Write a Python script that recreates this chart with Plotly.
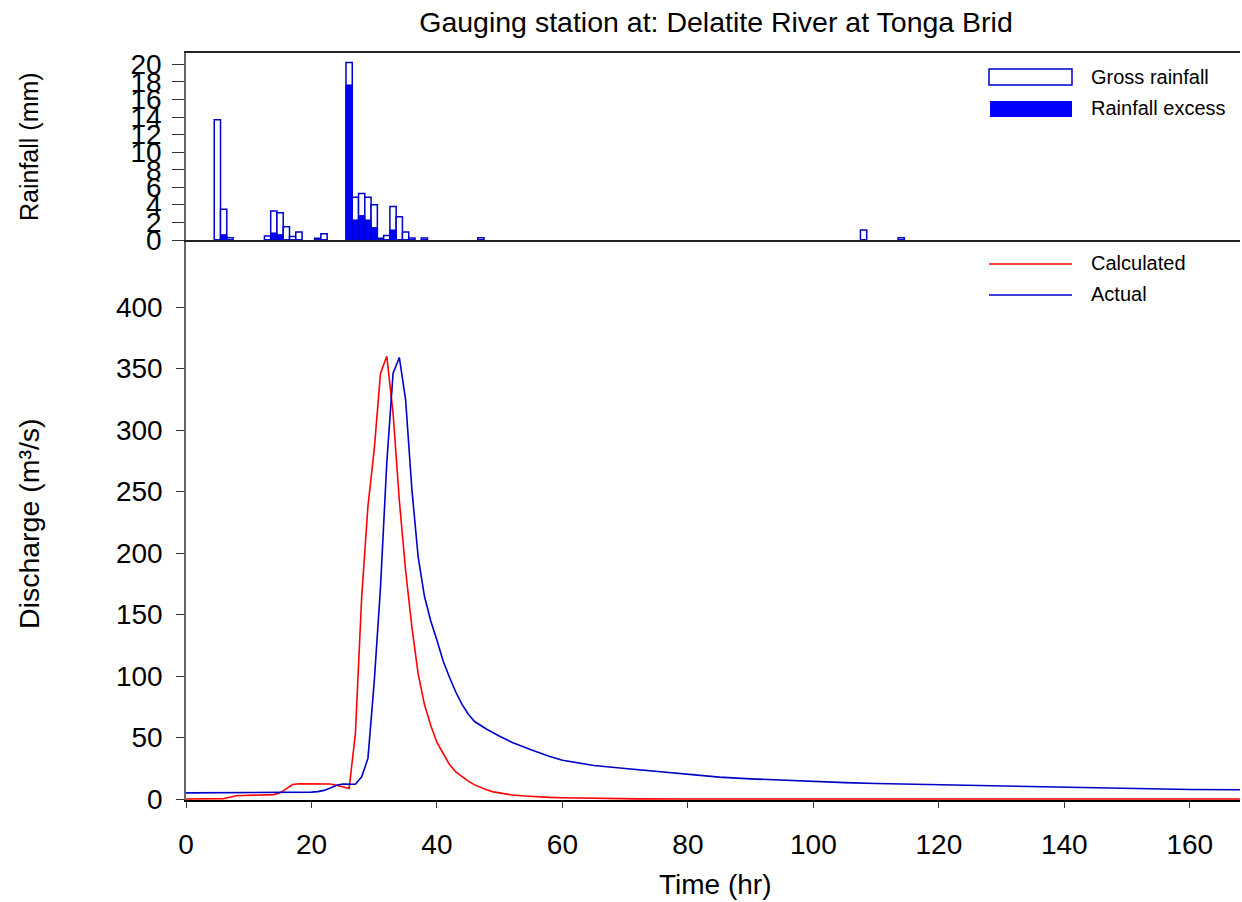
import plotly.graph_objects as go

# ---------------- data ----------------
rain_hours = [5, 6, 7, 13, 14, 15, 16, 17, 18, 21, 22, 26, 27, 28, 29, 30, 31, 32, 33, 34, 35, 36, 38, 47, 108, 114]
gross_rain = [13.7, 3.5, 0.25, 0.45, 3.3, 3.1, 1.5, 0.4, 0.9, 0.2, 0.7, 20.2, 4.86, 5.3, 4.86, 4.0, 0.2, 0.5, 3.8, 2.66, 0.9, 0.23, 0.23, 0.25, 1.14, 0.26]
excess_rain = [0, 0.6, 0, 0, 0.8, 0.6, 0, 0, 0, 0, 0, 17.65, 2.28, 2.77, 2.28, 1.4, 0, 0, 1.14, 0, 0, 0, 0, 0, 0, 0]

calc_hours = [0, 1, 2, 3, 4, 5, 6, 7, 8, 9, 10, 11, 12, 13, 14, 15, 16, 17, 18, 19, 20, 21, 22, 23, 24, 25, 26,
              27, 28, 29, 30, 31, 32, 33, 34, 35, 36, 37, 38, 39, 40, 41, 42, 43, 44, 45, 46, 47, 48, 49, 50,
              52, 54, 56, 58, 60, 64, 68, 72, 80, 100, 120, 140, 168]
calc_q = [0, 0, 0, 0, 0, 0, 0.3, 1.5, 2.6, 2.8, 2.9, 3.0, 3.0, 3.2, 3.6, 5.0, 8.5, 11.8, 12.4, 12.4, 12.5, 12.6, 12.8, 12.2, 11.2, 10.0, 8.6,
          53, 164, 238, 284, 346, 360, 314, 243, 186, 140, 102, 77, 60, 46, 37, 28, 22, 18, 14.5, 11.5, 9.2, 7.4, 5.8, 4.8,
          3.3, 2.4, 1.7, 1.3, 1.0, 0.5, 0.2, 0.1, 0, 0, 0, 0, 0]

act_hours = [0, 5, 10, 15, 18, 19, 20, 21, 22, 23, 24, 25, 26, 27, 28, 29, 30, 31, 32, 33, 34, 35, 36, 37, 38, 39, 40,
             41, 42, 43, 44, 45, 46, 47, 48, 50, 52, 55, 58, 60, 65, 70, 75, 80, 85, 90, 95, 100, 105, 110, 115,
             120, 125, 130, 135, 140, 145, 150, 155, 160, 168]
act_q = [5, 5, 5.1, 5.2, 5.4, 5.4, 5.6, 6.0, 7.0, 9.0, 11.2, 12.2, 12.0, 12.0, 18, 33, 95, 172, 273, 346, 359, 325, 252, 197, 165, 145, 129,
         112, 99, 87, 77, 69, 63, 59.5, 56.5, 51, 46, 40, 34.5, 31.5, 27.3, 24.8, 22.5, 20, 17.8, 16.4, 15.2, 14, 13.3, 12.6, 12.1,
         11.6, 11, 10.5, 9.9, 9.4, 9.0, 8.6, 8.1, 7.7, 7.5]

x_ticks = [0, 20, 40, 60, 80, 100, 120, 140, 160]
q_ticks = [0, 50, 100, 150, 200, 250, 300, 350, 400]
rain_ticks = [0, 2, 4, 6, 8, 10, 12, 14, 16, 18, 20]

# ---------------- styling ----------------
FONT = "Liberation Sans, Arial, sans-serif"
W, H = 1242, 902
L, R, T, B = 186, 2, 53, 102
PW, PH = W - L - R, H - T - B
SPLIT = 240  # pixel y of boundary between panels
split_frac = (H - B - SPLIT) / PH

def px(xp):
    return (xp - L) / PW

def py(yp):
    return (H - B - yp) / PH

GROSS_EDGE = "#0000CC"
EXCESS = "#0000FF"
RED = "#FF0000"
BLUE = "#0000C8"

fig = go.Figure()

fig.add_trace(go.Bar(x=rain_hours, y=gross_rain, width=1, name="Gross rainfall",
                     marker=dict(color="white", line=dict(color=GROSS_EDGE, width=1.5)),
                     xaxis="x2", yaxis="y2", showlegend=False))
fig.add_trace(go.Bar(x=rain_hours, y=excess_rain, width=1, name="Rainfall excess",
                     marker=dict(color=EXCESS, line=dict(color=GROSS_EDGE, width=1)),
                     xaxis="x2", yaxis="y2", showlegend=False))

fig.add_trace(go.Scatter(x=calc_hours, y=calc_q, mode="lines", name="Calculated",
                         line=dict(color=RED, width=1.6), showlegend=False))
fig.add_trace(go.Scatter(x=act_hours, y=act_q, mode="lines", name="Actual",
                         line=dict(color=BLUE, width=1.6), showlegend=False))

tickfont = dict(family=FONT, size=28, color="black")

fig.update_layout(
    width=W, height=H,
    margin=dict(l=L, r=R, t=T, b=B),
    paper_bgcolor="white", plot_bgcolor="white",
    barmode="overlay",
    font=dict(family=FONT, color="black"),
    title=dict(text="Gauging station at: Delatite River at Tonga Brid",
               font=dict(family=FONT, size=28.5, color="black"),
               x=716 / W, xref="container", xanchor="center",
               y=1 - 22 / H, yref="container", yanchor="middle"),
    xaxis=dict(domain=[0, 1], range=[0, 168], tickvals=x_ticks, ticks="outside", ticklen=6,
               tickcolor="#333", showline=True, linecolor="black", linewidth=1.5,
               showgrid=False, zeroline=False, tickfont=tickfont, anchor="y",
               ticklabelstandoff=13, layer="below traces"),
    yaxis=dict(domain=[0, split_frac], range=[-0.8, 454.5], tickvals=q_ticks, ticks="outside",
               ticklen=8, tickcolor="#333", showline=True, linecolor="#666", linewidth=1.5,
               showgrid=False, zeroline=False, tickfont=tickfont, anchor="x",
               ticklabelstandoff=8),
    xaxis2=dict(domain=[0, 1], range=[0, 168], showticklabels=False, ticks="",
                showline=True, mirror=True, linecolor="#222", linewidth=1.5,
                showgrid=False, zeroline=False, anchor="y2", matches="x"),
    yaxis2=dict(domain=[split_frac, 1], range=[0, 21.29], tickvals=rain_ticks, ticks="outside",
                ticklen=12, tickcolor="#333", showline=True, linecolor="#666", linewidth=1.5,
                showgrid=False, zeroline=False, tickfont=tickfont, anchor="x2",
                ticklabelstandoff=5),
)

# axis titles
fig.add_annotation(text="Time (hr)", xref="paper", yref="paper", x=px(715), y=py(884),
                   xanchor="center", yanchor="middle", showarrow=False,
                   font=dict(family=FONT, size=28, color="black"))
fig.add_annotation(text="Discharge (m³/s)", xref="paper", yref="paper", x=px(29), y=py(524),
                   xanchor="center", yanchor="middle", showarrow=False, textangle=-90,
                   font=dict(family=FONT, size=28.5, color="black"))
fig.add_annotation(text="Rainfall (mm)", xref="paper", yref="paper", x=px(29), y=py(147),
                   xanchor="center", yanchor="middle", showarrow=False, textangle=-90,
                   font=dict(family=FONT, size=25, color="black"))

# legends (drawn manually to reproduce the wide swatches)
legfont = dict(family=FONT, size=20, color="black")
fig.add_shape(type="rect", xref="paper", yref="paper", x0=px(989), x1=px(1072), y0=py(85), y1=py(69),
              fillcolor="white", line=dict(color=GROSS_EDGE, width=1.5))
fig.add_shape(type="rect", xref="paper", yref="paper", x0=px(990), x1=px(1072), y0=py(117), y1=py(101),
              fillcolor=EXCESS, line=dict(width=0))
fig.add_shape(type="line", xref="paper", yref="paper", x0=px(989), x1=px(1072), y0=py(264), y1=py(264),
              line=dict(color=RED, width=1.5))
fig.add_shape(type="line", xref="paper", yref="paper", x0=px(989), x1=px(1072), y0=py(295), y1=py(295),
              line=dict(color=BLUE, width=1.5))
for label, yy in [("Gross rainfall", 77), ("Rainfall excess", 108), ("Calculated", 263), ("Actual", 294)]:
    fig.add_annotation(text=label, xref="paper", yref="paper", x=px(1089), y=py(yy),
                       xanchor="left", yanchor="middle", showarrow=False, font=legfont)

fig.write_html("out.html")
